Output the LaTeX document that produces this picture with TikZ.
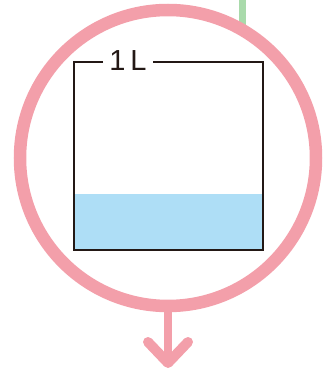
\documentclass[tikz,border=0pt]{standalone}
\usepackage{fontspec}
\setmainfont{Liberation Sans}
\definecolor{ringpink}{HTML}{F39FAA}
\definecolor{leafgreen}{HTML}{A9DAAB}
\definecolor{water}{HTML}{AEDEF6}
\definecolor{ink}{HTML}{231815}
\begin{document}
\begin{tikzpicture}[x=1pt,y=1pt,
  ringstyle/.style={circle, draw=ringpink, line width=12.5pt, minimum size=296pt, inner sep=0pt},
  tankline/.style={draw=ink, line width=2.2pt},
  arrowline/.style={draw=ringpink, line cap=round, line join=round}]
\useasboundingbox (0,0) rectangle (332,370);
% green pipe
\coordinate (gtop) at (242,372);
\coordinate (gbot) at (242,340);
\draw[leafgreen, line width=7pt] (gtop) -- (gbot);
% ring
\node[ringstyle] (ring) at (168,212) {};
% tank
\coordinate (bl) at (74,120);
\coordinate (br) at (263,120);
\coordinate (tl) at (74,308);
\coordinate (tr) at (263,308);
\coordinate (wl) at (74,176);
\coordinate (wr) at (263,176);
\fill[water] (bl) rectangle (wr);
\node[font=\fontsize{29}{30}\selectfont, text=ink, inner sep=0pt] (label) at (128,309) {1\hspace{5pt}L};
\coordinate (gapl) at (103,308);
\coordinate (gapr) at (153,308);
\draw[tankline] (gapl) -- (tl) -- (bl) -- (br) -- (tr) -- (gapr);
% arrow
\coordinate (tip) at (168,7);
\coordinate (al) at (148,28);
\coordinate (ar) at (188,28);
\draw[arrowline, line width=8pt] (ring.south) -- (tip);
\draw[arrowline, line width=10pt] (al) -- (tip) -- (ar);
\end{tikzpicture}
\end{document}
